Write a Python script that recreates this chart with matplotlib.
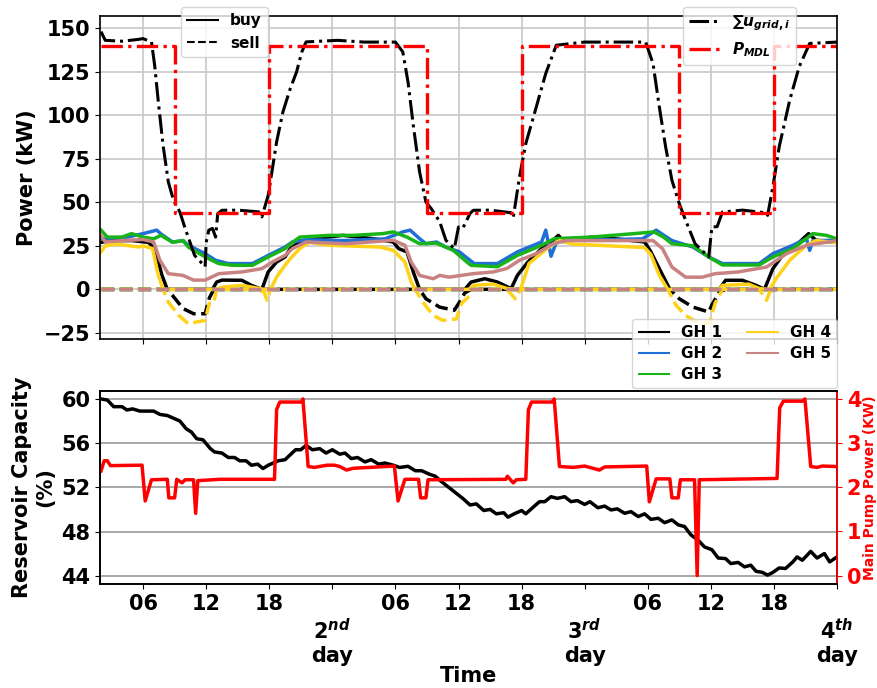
import numpy as np
import matplotlib
matplotlib.use('Agg')
import matplotlib.pyplot as plt
from matplotlib.lines import Line2D

plt.rcParams['font.family'] = 'DejaVu Sans'
plt.rcParams['font.weight'] = 'bold'
plt.rcParams['axes.labelweight'] = 'bold'
plt.rcParams['font.size'] = 15
plt.rcParams['axes.linewidth'] = 1.2
plt.rcParams['mathtext.fontset'] = 'custom'
plt.rcParams['mathtext.rm'] = 'DejaVu Sans:bold'
plt.rcParams['mathtext.it'] = 'DejaVu Sans:italic:bold'
plt.rcParams['mathtext.bf'] = 'DejaVu Sans:bold'

# time in hours from the start of day 1, net grid power of each greenhouse (kW)
# (positive = buy, negative = sell)
gh1 = [(2, 27), (3, 28), (5, 28), (6.5, 27), (7.1, 23.5), (7.8, 8), (8.3, 0), (8.8, -3.5), (9.8, -11),
       (10.8, -14), (11.9, -14), (12.3, -5), (12.6, -1.5), (13.0, 4.2), (13.5, 5.3), (15.4, 5.2), (16.3, 2.3),
       (17.3, 0), (17.9, 10), (18.7, 15.7), (19.5, 18.6), (20.0, 23.4), (20.9, 27.2), (22, 29), (25, 31),
       (28, 29), (29.8, 27.2), (30.3, 23.4), (31.1, 21.5), (31.7, 10), (32.3, 0), (32.9, -5.4), (34.2, -10.2),
       (35.6, -12), (36.1, -7.3), (36.6, -2), (37.2, 4.2), (38.5, 6.1), (39.7, 4.2), (41.0, 0.4), (41.6, 8),
       (42.6, 15.7), (43.9, 23.4), (44.8, 27.2), (45.5, 31), (46.0, 27.5), (48.6, 30), (51, 29), (53.7, 27.2),
       (54.3, 21.5), (55.1, 11.9), (56.1, 0), (57.0, -5.4), (58.3, -10.2), (59.8, -13), (60.1, -9),
       (60.8, -1.5), (61.4, 5.2), (63.0, 5.2), (64.3, 2.3), (65.1, 0), (65.9, 11.9), (66.8, 19.5),
       (68.1, 25.3), (69.3, 32), (70.0, 28.2), (71.8, 27), (72, 27)]
gh2 = [(2, 29.1), (4.5, 30), (6, 32), (7.3, 34), (7.7, 31.8), (8.8, 27.2), (9.8, 28), (10.3, 25.3),
       (11.9, 20.5), (12.9, 16.7), (14.1, 14.8), (16.4, 14.8), (17.9, 19.5), (19.5, 24.3), (20.2, 27.2),
       (21.5, 28.5), (25, 28), (29, 29), (30.7, 33), (31.4, 34), (32.3, 29.1), (32.9, 26.2), (33.9, 27.2),
       (34.8, 24.3), (36.1, 21.5), (36.5, 19.5), (37.5, 14.8), (39.7, 14.8), (41.6, 21.5), (43.9, 27.2),
       (44.3, 34), (44.8, 19), (45.3, 27), (46.1, 28.2), (50, 28.5), (53.5, 29), (54.8, 34), (56.3, 28),
       (58.3, 24.3), (59.8, 18.6), (61.1, 14.8), (64.6, 14.8), (65.9, 20.5), (67.8, 25.3), (69.1, 29.1),
       (69.4, 22.4), (69.7, 28), (72, 28.2)]
gh3 = [(2, 34), (2.6, 30), (4, 30), (4.9, 32), (6, 30), (7, 29), (7.7, 31), (8.8, 27), (9.8, 28),
       (10.3, 24.3), (11.9, 18.6), (13.2, 14.8), (14.5, 13.8), (16.4, 13.8), (17.9, 18.6), (19.5, 23.4),
       (20.2, 27), (20.9, 30), (23.7, 31), (26, 31), (28.8, 32), (29.8, 33), (31.1, 30), (32.3, 26.2),
       (33.9, 26.5), (35.5, 22.4), (36.8, 15.7), (37.2, 13.8), (39.7, 13), (41.6, 19.5), (43.9, 25.3),
       (45.1, 29.1), (48.6, 30), (52.7, 32), (54.6, 33), (55.5, 30), (56.3, 26.2), (58.3, 25), (59.8, 18.6),
       (61.1, 14), (64.6, 14), (65.9, 18.6), (67.8, 23.4), (69.7, 32), (71, 31), (72, 29)]
gh4 = [(2, 21.5), (2.4, 25), (3.5, 26), (5.6, 24.3), (6.0, 25), (6.9, 23.4), (7.45, 8), (7.9, 0), (8.4, -7.3),
       (9.4, -15), (10.3, -19.7), (11.9, -17.8), (12.3, -8), (12.7, -8), (13.0, 0), (13.5, 1.3), (15.4, 2.3),
       (16.6, 1), (17.5, -1.5), (17.8, -6.3), (18.1, 0), (18.8, 8), (19.5, 13.8), (20.0, 17.6), (20.9, 23.4),
       (21.8, 27), (23.7, 25.3), (28.5, 24.3), (29.8, 22.4), (30.9, 15.7), (31.5, 4.2), (31.9, 0),
       (32.6, -7.3), (33.6, -15), (34.5, -17.8), (35.8, -17), (36.3, -8), (37.1, -3.5), (37.4, 2.3),
       (39.3, 3), (40.6, 0.5), (41.4, -5.4), (41.9, 0), (42.7, 14.8), (44.6, 24.3), (45.6, 28), (46.9, 26),
       (53.7, 24), (54.3, 20), (55.1, 8), (55.9, 0), (56.7, -9.2), (57.6, -15), (59.0, -20), (59.9, -19),
       (60.4, -8), (60.8, -3.5), (61.1, 2.3), (63.6, 3), (64.6, 0.5), (65.3, -6.3), (65.6, -1.5), (66.2, 6.1),
       (67.5, 16.7), (69.1, 25.3), (70.0, 28), (71.8, 27), (72, 27)]
gh5 = [(2, 31), (2.4, 27.2), (4, 28), (6, 28.6), (7, 27.2), (7.6, 16.7), (8.4, 9), (9.8, 8), (10.8, 5.3),
       (11.9, 5.3), (13.2, 9), (15.4, 10), (17.3, 11.9), (18.3, 15.7), (19.5, 19.5), (20.2, 23.4),
       (21.5, 27.2), (25.3, 26.2), (29.8, 28.2), (30.9, 25.3), (31.5, 15.7), (32.3, 8), (33.6, 6.1),
       (34.2, 8), (35.1, 7), (37.4, 9), (39.3, 10), (40.6, 12), (41.8, 16.7), (43.4, 20.5), (45.0, 26.2),
       (46.3, 28), (54.5, 28), (55.4, 23.4), (56.3, 12.8), (57.6, 7), (59.2, 7), (60.4, 9), (62.6, 10),
       (65.3, 12.8), (67.2, 20.5), (69.1, 25.3), (72, 28)]

# total grid power and the demand limit
u_grid_sum = [(2, 148), (2.4, 143), (4, 142.5), (5.5, 143.5), (6.0, 144), (6.8, 142), (7.1, 128.7),
              (7.45, 107.6), (7.9, 82.8), (8.4, 61.7), (8.9, 51), (9.5, 44.4), (10.0, 35), (10.9, 19.5),
              (11.9, 13), (12.0, 27), (12.25, 34), (12.6, 35), (12.9, 30), (13.1, 43.5), (13.5, 45.4),
              (15, 45.5), (17.0, 44.5), (17.3, 41.6), (17.9, 54), (18.7, 84.7), (19.3, 101.9), (20.0, 115.3),
              (20.6, 124.9), (21.1, 136.4), (21.5, 142.1), (24.5, 143), (27, 142), (30.0, 142), (30.7, 136.4),
              (31.2, 119), (31.7, 94.2), (32.3, 67.4), (32.9, 50.2), (33.4, 46.4), (34.2, 39), (34.8, 28.2),
              (35.6, 23.4), (36.0, 35.8), (36.4, 35), (37.1, 43.6), (37.4, 45.4), (39, 45.5), (41.0, 44),
              (41.2, 41), (41.8, 64.5), (42.4, 83.7), (43.4, 104.8), (44.3, 124), (45.3, 140.2), (48, 142),
              (51, 142), (53.8, 142), (54.5, 129.7), (55.1, 104.8), (55.7, 81.8), (56.3, 62.6), (57.0, 49.2),
              (57.6, 39.7), (58.5, 26.2), (59.8, 18.6), (60.1, 35.8), (60.6, 36), (61.1, 44.4), (63, 45.5),
              (65.2, 44), (65.4, 42.5), (65.9, 58.8), (66.5, 81.8), (67.5, 108.6), (68.4, 127.8),
              (69.4, 141.2), (72, 142)]
p_mdl = [(2, 140), (9, 140), (9, 44), (18, 44), (18, 140), (33, 140), (33, 44), (42, 44), (42, 140),
         (57, 140), (57, 44), (66, 44), (66, 140), (72, 140)]

# reservoir level (%) and main pump power (kW)
reservoir = [(2, 60), (2.6, 59.9), (3.2, 59.3), (4.0, 59.3), (4.45, 59.0), (5.0, 59.1), (5.7, 58.9), (7.0, 58.9),
             (7.6, 58.6), (8.3, 58.5), (8.9, 58.25), (9.5, 58.0), (10.1, 57.3), (10.6, 57.0), (11.1, 56.4),
             (11.7, 56.3), (12.4, 55.5), (12.8, 55.2), (13.5, 55.1), (14.1, 54.7), (14.7, 54.7), (15.2, 54.4),
             (15.8, 54.4), (16.3, 54.0), (16.9, 54.1), (17.4, 53.7), (17.9, 54.0), (18.85, 54.4), (19.5, 54.5),
             (20.5, 55.4), (21.0, 55.4), (21.5, 55.8), (22.1, 55.4), (22.8, 55.5), (23.4, 55.1), (24.0, 55.4),
             (24.7, 55.0), (25.2, 55.1), (25.8, 54.6), (26.4, 54.7), (27.1, 54.3), (27.7, 54.5), (28.4, 54.1),
             (29.0, 54.2), (29.8, 54.0), (30.4, 53.8), (31.2, 53.9), (31.9, 53.5), (32.5, 53.5), (33.2, 53.2),
             (33.8, 53.0), (34.4, 52.5), (35.2, 51.9), (35.8, 51.45), (36.4, 51.0), (37.1, 50.4), (37.7, 50.5),
             (38.4, 49.9), (39.0, 50.0), (39.6, 49.6), (40.3, 49.7), (40.7, 49.3), (41.3, 49.6), (42.0, 49.9),
             (42.4, 49.6), (43.1, 50.2), (43.7, 50.7), (44.2, 50.7), (44.8, 51.15), (45.4, 51.0), (46.1, 51.15),
             (46.7, 50.7), (47.3, 50.8), (48.0, 50.45), (48.5, 50.7), (49.25, 50.15), (49.9, 50.3), (50.5, 49.95),
             (51.1, 50.05), (51.8, 49.65), (52.4, 49.8), (53.1, 49.35), (53.7, 49.6), (54.3, 49.1), (55.0, 49.2),
             (55.6, 48.8), (56.3, 49.05), (56.9, 48.6), (57.5, 48.45), (58.1, 47.7), (58.8, 47.2), (59.4, 46.6),
             (60.1, 46.35), (60.7, 45.6), (61.4, 45.55), (61.9, 45.1), (62.6, 45.2), (63.2, 44.8), (63.8, 44.95),
             (64.3, 44.4), (64.9, 44.3), (65.4, 44.05), (65.9, 44.3), (66.5, 44.7), (67.1, 44.65), (67.8, 45.25),
             (68.2, 45.7), (68.7, 45.4), (69.5, 46.2), (70.1, 45.6), (70.8, 46.0), (71.3, 45.25), (72, 45.7)]
pump = [(2, 2.37), (2.3, 2.6), (2.6, 2.6), (2.9, 2.49), (5.9, 2.5), (6.2, 1.69), (6.8, 2.17), (8.3, 2.18),
        (8.45, 1.76), (9.0, 1.76), (9.2, 2.18), (9.7, 2.1), (10.0, 2.17), (10.8, 2.17), (11.0, 1.41),
        (11.2, 2.15), (13.3, 2.18), (18.5, 2.18), (18.7, 3.76), (19.0, 3.93), (21.1, 3.93), (21.2, 4.0),
        (21.7, 2.47), (22.3, 2.45), (23.5, 2.5), (24.2, 2.5), (24.7, 2.47), (25.35, 2.39), (26, 2.43),
        (29.9, 2.48), (30.25, 1.69), (30.9, 2.18), (32.2, 2.18), (32.4, 1.76), (32.9, 1.76), (33.1, 2.17),
        (40.5, 2.18), (40.65, 2.25), (41.2, 2.1), (41.5, 2.17), (42.4, 2.18), (42.65, 3.76), (42.95, 3.93),
        (44.9, 3.93), (45.1, 4.0), (45.6, 2.47), (46.9, 2.45), (48.0, 2.48), (49.4, 2.39), (49.9, 2.46),
        (53.9, 2.48), (54.15, 1.67), (54.8, 2.19), (56.1, 2.19), (56.3, 1.76), (56.9, 1.76), (57.1, 2.17),
        (58.45, 2.17), (58.7, 0.0), (58.9, 2.17), (66.3, 2.2), (66.55, 3.8), (66.9, 3.95), (68.7, 3.95),
        (68.95, 4.0), (69.5, 2.47), (70.1, 2.45), (70.6, 2.48), (72, 2.47)]

gh_names = ['GH 1', 'GH 2', 'GH 3', 'GH 4', 'GH 5']
gh_colors = ['black', '#1f6fd6', '#18b418', '#ffd21a', '#c98282']
gh_data = [gh1, gh2, gh3, gh4, gh5]

hour_ticks = list(range(6, 73, 6))
hour_labels = ['06', '12', '18', '\n2$^{nd}$\nday', '06', '12', '18', '\n3$^{rd}$\nday',
               '06', '12', '18', '\n4$^{th}$\nday']

fig = plt.figure(figsize=(8.77, 6.88), dpi=100)
ax1 = fig.add_axes([0.1140, 0.5073, 0.8404, 0.4695])
ax2 = fig.add_axes([0.1140, 0.1512, 0.8404, 0.2805])

# --- upper panel: grid power ---
for pts, c in zip(gh_data, gh_colors):
    t, p = np.array(pts, dtype=float).T
    ax1.plot(t, np.clip(p, 0, None), color=c, lw=2.5)
    ax1.plot(t, np.clip(p, None, 0), color=c, lw=2.5, ls='--')

t, p = np.array(u_grid_sum, dtype=float).T
l_sum, = ax1.plot(t, p, color='black', lw=2.2, ls='-.', label=r'$\sum u_{grid,i}$')
t, p = np.array(p_mdl, dtype=float).T
l_mdl, = ax1.plot(t, p, color='red', lw=2.4, ls='-.', label=r'$P_{MDL}$')

ax1.set_xlim(1.9, 72)
ax1.set_ylim(-28.5, 157)
ax1.set_yticks([-25, 0, 25, 50, 75, 100, 125, 150])
ax1.set_xticks(hour_ticks)
ax1.tick_params(labelbottom=False)
ax1.grid(True, color='#c8c8c8', lw=1.2)
ax1.set_ylabel('Power (kW)')
ax1.yaxis.set_label_coords(-0.086, 0.5)

leg_prop = {'weight': 'bold', 'size': 11}
leg1 = ax1.legend(handles=[Line2D([], [], color='black', lw=1.5, ls='-'),
                           Line2D([], [], color='black', lw=1.5, ls='--')],
                  labels=['buy', 'sell'], loc='upper left', bbox_to_anchor=(0.11, 1.028),
                  borderaxespad=0, prop=leg_prop)
ax1.add_artist(leg1)
leg2 = ax1.legend(handles=[l_sum, l_mdl], loc='upper left', bbox_to_anchor=(0.791, 1.028),
                  borderaxespad=0, prop=leg_prop)
ax1.add_artist(leg2)
gh_handles = [Line2D([], [], color=c, lw=1.5) for c in gh_colors]
ax1.legend(handles=gh_handles, labels=gh_names, ncol=2, loc='upper right',
           bbox_to_anchor=(1.0, 0.062), borderaxespad=0, prop=leg_prop,
           columnspacing=1.6, labelspacing=0.4)

# --- lower panel: reservoir and pump ---
t, r = np.array(reservoir, dtype=float).T
ax2.plot(t, r, color='black', lw=2.5)
ax2.set_xlim(1.9, 72)
ax2.set_ylim(43.25, 60.72)
ax2.set_yticks([44, 48, 52, 56, 60])
ax2.yaxis.grid(True, color='#999999', lw=1.2)
ax2.set_xticks(hour_ticks)
ax2.set_xticklabels(hour_labels)
ax2.set_ylabel('Reservoir Capacity\n(%)')
ax2.yaxis.set_label_coords(-0.061, 0.5)
ax2.set_xlabel('Time')
ax2.xaxis.set_label_coords(0.5, -0.425)

ax3 = ax2.twinx()
t, w = np.array(pump, dtype=float).T
ax3.plot(t, w, color='red', lw=2.5)
ax3.set_ylim(-0.19, 4.18)
ax3.set_yticks([0, 1, 2, 3, 4])
ax3.tick_params(axis='y', colors='red')
ax3.spines['right'].set_color('red')
ax3.set_ylabel('Main Pump Power (KW)', color='red', fontsize=10)
ax3.yaxis.set_label_coords(1.035, 0.5)

fig.savefig('out.png', dpi=100)
